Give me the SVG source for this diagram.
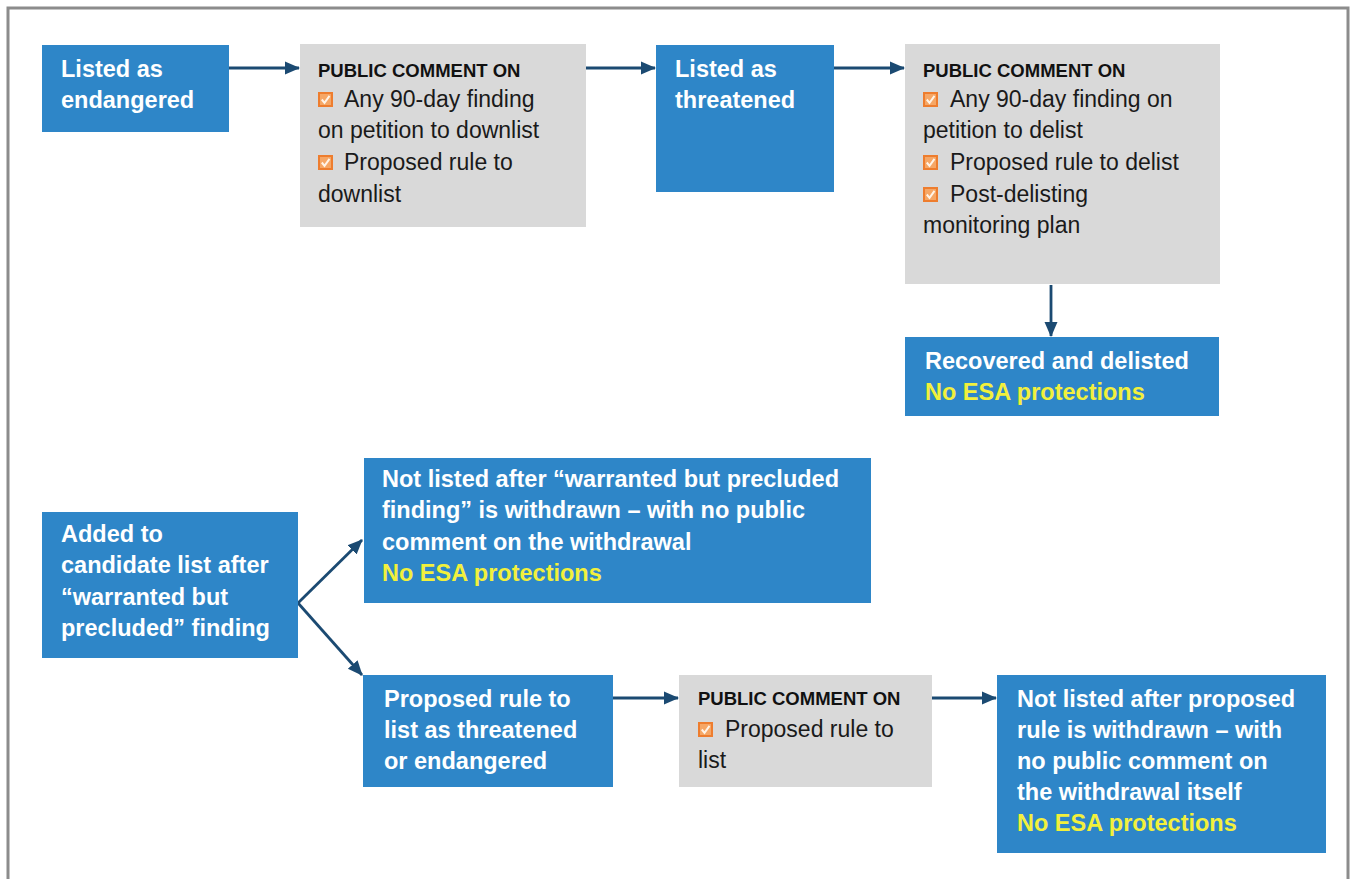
<svg xmlns="http://www.w3.org/2000/svg" xmlns:xlink="http://www.w3.org/1999/xlink" width="1351" height="879" viewBox="0 0 1351 879">
<style>
.blue{fill:#2E86C8}
.gray{fill:#D9D9D9}
.bt{font-family:"Liberation Sans",Arial,sans-serif;font-weight:bold;font-size:23.5px;fill:#FFFFFF}
.yl{fill:#F2F03C}
.hd{font-family:"Liberation Sans",Arial,sans-serif;font-weight:bold;font-size:18.5px;fill:#111111}
.gt{font-family:"Liberation Sans",Arial,sans-serif;font-size:23px;fill:#1A1A1A}
.conn{stroke:#1B4A72;stroke-width:2.8;fill:none;marker-end:url(#ah)}
</style>
<defs>
<marker id="ah" markerWidth="16" markerHeight="16" refX="14" refY="8" orient="auto" markerUnits="userSpaceOnUse">
<path d="M0,1.5 L15,8 L0,14.5 Z" fill="#1B4A72"/>
</marker>
<symbol id="cb" viewBox="0 0 15 15">
<rect x="1" y="1" width="13" height="13" fill="#F6A766" stroke="#EE7D2E" stroke-width="2"/>
<path d="M3.8 7.5 L6.5 10.8 L11.5 3.8" fill="none" stroke="#FFF4E8" stroke-width="2"/>
</symbol>
</defs>
<rect width="1351" height="879" fill="#FFFFFF"/>
<rect x="8" y="8" width="1340" height="900" fill="none" stroke="#8C8C8C" stroke-width="3"/>

<g id="connectors">
<path class="conn" d="M229,68 H299"/>
<path class="conn" d="M586,68 H655"/>
<path class="conn" d="M834,68 H904"/>
<path class="conn" d="M1051,285 V336"/>
<path class="conn" d="M298,603 L362,540"/>
<path class="conn" d="M298,603 L362,675"/>
<path class="conn" d="M613,698 H678"/>
<path class="conn" d="M932,698 H996"/>
</g>

<g id="listed-endangered">
<rect class="blue" x="42" y="45" width="187" height="87"/>
<text class="bt" x="61" y="77">Listed as</text>
<text class="bt" x="61" y="108">endangered</text>
</g>

<g id="comment-downlist">
<rect class="gray" x="300" y="44" width="286" height="183"/>
<text class="hd" x="318" y="77">PUBLIC COMMENT ON</text>
<use xlink:href="#cb" x="318" y="92" width="15" height="15"/>
<text class="gt" x="344" y="107">Any 90-day finding</text>
<text class="gt" x="318" y="138">on petition to downlist</text>
<use xlink:href="#cb" x="318" y="155" width="15" height="15"/>
<text class="gt" x="344" y="170">Proposed rule to</text>
<text class="gt" x="318" y="202">downlist</text>
</g>

<g id="listed-threatened">
<rect class="blue" x="656" y="45" width="178" height="147"/>
<text class="bt" x="675" y="77">Listed as</text>
<text class="bt" x="675" y="108">threatened</text>
</g>

<g id="comment-delist">
<rect class="gray" x="905" y="44" width="315" height="240"/>
<text class="hd" x="923" y="77">PUBLIC COMMENT ON</text>
<use xlink:href="#cb" x="923" y="92" width="15" height="15"/>
<text class="gt" x="950" y="107">Any 90-day finding on</text>
<text class="gt" x="923" y="138">petition to delist</text>
<use xlink:href="#cb" x="923" y="155" width="15" height="15"/>
<text class="gt" x="950" y="170">Proposed rule to delist</text>
<use xlink:href="#cb" x="923" y="187" width="15" height="15"/>
<text class="gt" x="950" y="202">Post-delisting</text>
<text class="gt" x="923" y="233">monitoring plan</text>
</g>

<g id="recovered">
<rect class="blue" x="905" y="337" width="314" height="79"/>
<text class="bt" x="925" y="369">Recovered and delisted</text>
<text class="bt yl" x="925" y="400">No ESA protections</text>
</g>

<g id="candidate">
<rect class="blue" x="42" y="512" width="256" height="146"/>
<text class="bt" x="61" y="542">Added to</text>
<text class="bt" x="61" y="573">candidate list after</text>
<text class="bt" x="61" y="605">“warranted but</text>
<text class="bt" x="61" y="636">precluded” finding</text>
</g>

<g id="not-listed-wbp">
<rect class="blue" x="364" y="458" width="507" height="145"/>
<text class="bt" x="382" y="487">Not listed after “warranted but precluded</text>
<text class="bt" x="382" y="518">finding” is withdrawn – with no public</text>
<text class="bt" x="382" y="550">comment on the withdrawal</text>
<text class="bt yl" x="382" y="581">No ESA protections</text>
</g>

<g id="proposed-rule">
<rect class="blue" x="363" y="675" width="250" height="112"/>
<text class="bt" x="384" y="707">Proposed rule to</text>
<text class="bt" x="384" y="738">list as threatened</text>
<text class="bt" x="384" y="769">or endangered</text>
</g>

<g id="comment-list">
<rect class="gray" x="679" y="675" width="253" height="112"/>
<text class="hd" x="698" y="705">PUBLIC COMMENT ON</text>
<use xlink:href="#cb" x="698" y="722" width="15" height="15"/>
<text class="gt" x="725" y="737">Proposed rule to</text>
<text class="gt" x="698" y="768">list</text>
</g>

<g id="not-listed-proposed">
<rect class="blue" x="997" y="675" width="329" height="178"/>
<text class="bt" x="1017" y="707">Not listed after proposed</text>
<text class="bt" x="1017" y="738">rule is withdrawn – with</text>
<text class="bt" x="1017" y="769">no public comment on</text>
<text class="bt" x="1017" y="800">the withdrawal itself</text>
<text class="bt yl" x="1017" y="831">No ESA protections</text>
</g>
</svg>
